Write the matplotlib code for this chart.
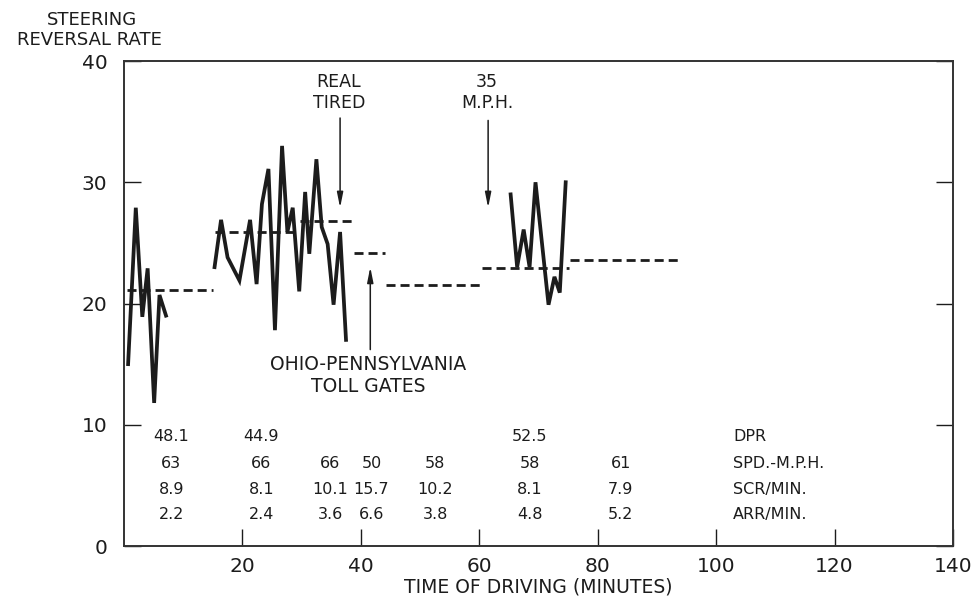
import numpy as np
import matplotlib.pyplot as plt

plt.rcParams["font.family"] = ["DejaVu Sans"]
plt.rcParams["lines.scale_dashes"] = False

INK = "#1c1c1c"

# steering reversal rate traces (minutes, reversals)
seg1_x = [0.7, 2.0, 3.1, 4.0, 5.1, 6.0, 7.1]
seg1_y = [15.0, 27.9, 18.9, 22.9, 11.8, 20.7, 19.0]

seg2_x = [15.3, 16.4, 17.5, 19.5, 21.3, 22.4, 23.3, 24.4, 25.5, 26.7, 27.6,
          28.5, 29.6, 30.6, 31.3, 32.5, 33.4, 34.4, 35.4, 36.5, 37.5]
seg2_y = [23.0, 26.9, 23.8, 21.9, 26.9, 21.6, 28.2, 31.1, 17.8, 33.0, 25.9,
          27.9, 21.0, 29.2, 24.1, 31.9, 26.3, 24.9, 19.9, 25.9, 17.0]

seg3_x = [65.3, 66.4, 67.5, 68.5, 69.5, 71.7, 72.7, 73.6, 74.6]
seg3_y = [29.0, 23.0, 26.1, 23.0, 30.0, 19.9, 22.2, 20.9, 30.0]

# mean level for each stretch of driving (dashed)
mean_start = [0.5, 15.3, 29.8, 38.9, 44.2, 60.5, 75.4]
mean_end = [15.0, 29.4, 39.1, 44.1, 60.5, 75.1, 93.5]
mean_level = [21.1, 25.9, 26.8, 24.2, 21.5, 22.9, 23.6]

# table under the traces
col_x = [8.0, 23.2, 34.8, 41.8, 52.6, 68.5, 83.9]
dpr = ["48.1", "44.9", "", "", "", "52.5", ""]
spd = ["63", "66", "66", "50", "58", "58", "61"]
scr = ["8.9", "8.1", "10.1", "15.7", "10.2", "8.1", "7.9"]
arr = ["2.2", "2.4", "3.6", "6.6", "3.8", "4.8", "5.2"]
row_names = ["DPR", "SPD.-M.P.H.", "SCR/MIN.", "ARR/MIN."]
row_y = [9.0, 6.8, 4.7, 2.6]

fig = plt.figure(figsize=(9.76, 6.0), dpi=100)
ax = fig.add_axes([0.127, 0.09, 0.8494, 0.8083])

for xs, ys in [(seg1_x, seg1_y), (seg2_x, seg2_y), (seg3_x, seg3_y)]:
    ax.plot(xs, ys, color=INK, lw=2.7, solid_joinstyle="miter")

for x0, x1, lv in zip(mean_start, mean_end, mean_level):
    ax.plot([x0, x1], [lv, lv], color=INK, lw=2.0, ls=(0, (6.5, 3.6)))

for i, x in enumerate(col_x):
    for vals, y in zip([dpr, spd, scr, arr], row_y):
        ax.text(x, y, vals[i], ha="center", va="center", fontsize=11.5, color=INK)
for name, y in zip(row_names, row_y):
    ax.text(102.9, y, name, ha="left", va="center", fontsize=11.5, color=INK)

arrow = dict(arrowstyle="-|>,head_length=0.9,head_width=0.18", color=INK, lw=1.1,
             shrinkA=0, shrinkB=0)
ax.annotate("", xy=(36.5, 27.9), xytext=(36.5, 35.3), arrowprops=arrow)
ax.text(36.3, 37.4, "REAL\nTIRED", ha="center", va="center", fontsize=12.5,
        color=INK, linespacing=1.2)
ax.annotate("", xy=(61.5, 27.9), xytext=(61.5, 35.1), arrowprops=arrow)
ax.text(61.3, 37.4, "35\nM.P.H.", ha="center", va="center", fontsize=12.5,
        color=INK, linespacing=1.2)
ax.annotate("", xy=(41.6, 23.0), xytext=(41.6, 16.2), arrowprops=arrow)
ax.text(41.3, 14.1, "OHIO-PENNSYLVANIA\nTOLL GATES", ha="center", va="center",
        fontsize=13.5, color=INK, linespacing=1.2)

ax.set_xlim(0, 140)
ax.set_ylim(0, 40)
ax.set_xticks(range(20, 141, 20))
ax.set_yticks(range(0, 41, 10))
ax.tick_params(axis="both", direction="in", length=12, width=1.0, color=INK,
               labelsize=14.5, labelcolor=INK)
ax.tick_params(axis="y", pad=12, right=True)
ax.tick_params(axis="x", pad=8)
for sp in ax.spines.values():
    sp.set_linewidth(1.4)
    sp.set_color("#333333")

ax.set_xlabel("TIME OF DRIVING (MINUTES)", fontsize=13.5, color=INK, labelpad=1)
fig.text(0.094, 0.967, "STEERING", ha="center", va="center", fontsize=13, color=INK)
fig.text(0.092, 0.933, "REVERSAL RATE", ha="center", va="center", fontsize=13, color=INK)

fig.savefig("out.png", dpi=100)
